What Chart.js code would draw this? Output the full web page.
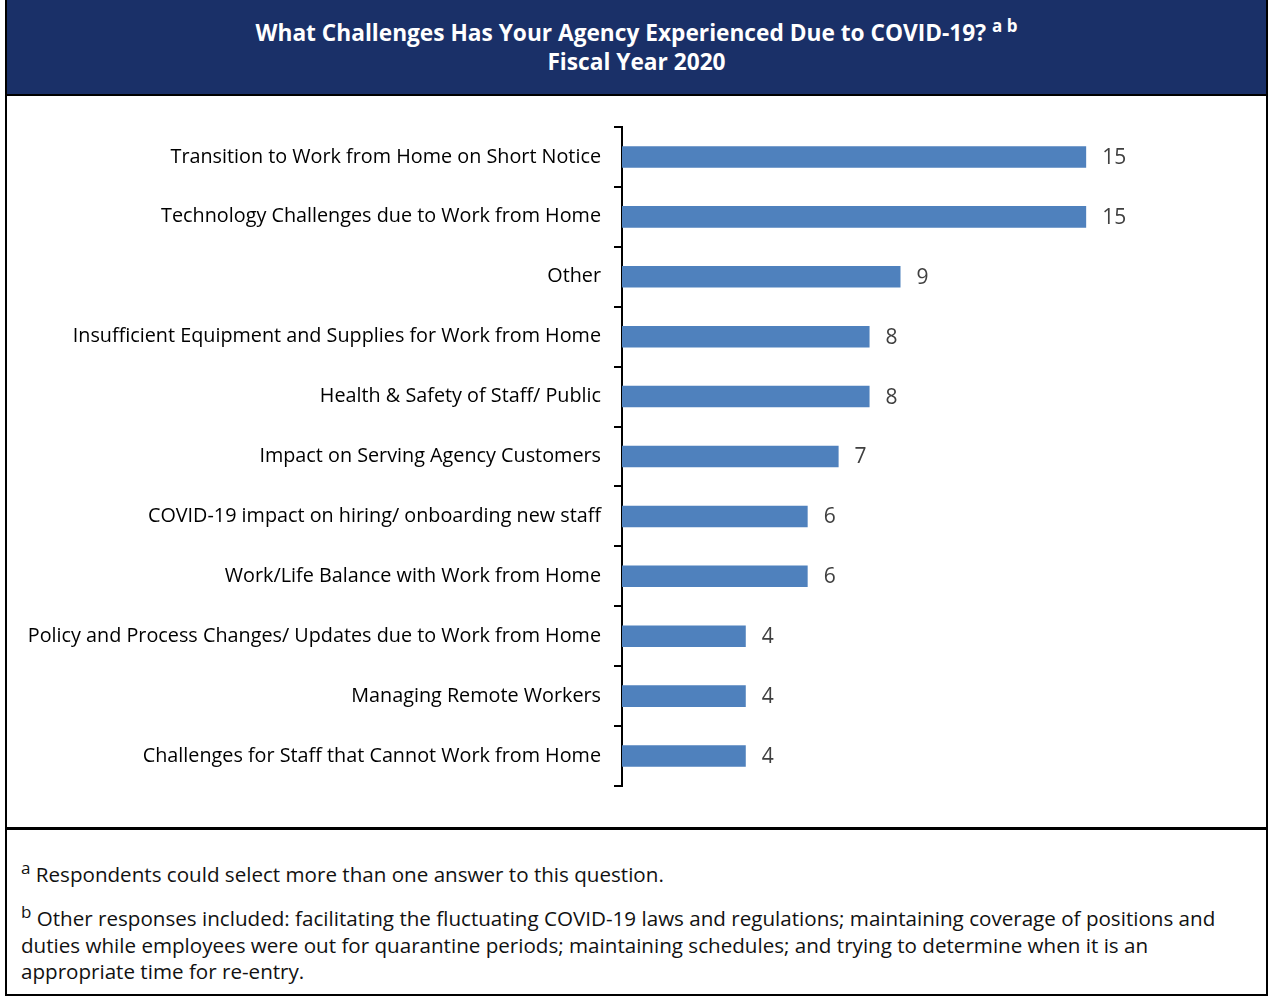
<!DOCTYPE html>
<html>
<head>
<meta charset="utf-8">
<script src="https://cdn.jsdelivr.net/npm/chart.js@4/dist/chart.umd.min.js"></script>
<style>
  html, body { margin: 0; padding: 0; background: #fff; }
  #frame {
    position: absolute; left: 5px; top: 0; width: 1259px; height: 994px;
    border: 2px solid #000; border-top: none; box-sizing: content-box;
  }
  #header {
    position: absolute; left: 0; top: 0; width: 1259px; height: 96px;
    background: #1a3068; border-bottom: 2px solid #000;
    color: #fff; text-align: center;
    font-family: "Open Sans", sans-serif; font-weight: bold;
    font-size: 22.7px; line-height: 29px; padding-top: 18px; box-sizing: border-box;
  }
  #header sup { font-size: 17px; vertical-align: 9px; line-height: 0; }
  #plot { position: absolute; left: 0; top: 97px; width: 1259px; height: 730px; }
  #notes {
    position: absolute; left: 0; top: 827px; width: 1259px; height: 167px;
    border-top: 3px solid #000; box-sizing: border-box;
    font-family: "Open Sans", sans-serif; font-size: 20.6px; color: #111;
    white-space: nowrap;
  }
  #notes p { margin: 0; }
  #notes sup { font-size: 17px; line-height: 0; vertical-align: 8px; }
  #n1 { position: absolute; top: 30px; left: 14px; }
  #n2 { position: absolute; top: 75px; left: 14px; line-height: 26.5px; }
</style>
</head>
<body>
<div id="frame">
  <div id="header">What Challenges Has Your Agency Experienced Due to COVID-19? <sup>a b</sup><br>Fiscal Year 2020</div>
  <div id="plot"><canvas id="c"></canvas></div>
  <div id="notes">
    <p id="n1"><sup>a</sup> Respondents could select more than one answer to this question.</p>
    <p id="n2"><sup>b</sup> Other responses included: facilitating the fluctuating COVID-19 laws and regulations; maintaining coverage of positions and<br>duties while employees were out for quarantine periods; maintaining schedules; and trying to determine when it is an<br>appropriate time for re-entry.</p>
  </div>
</div>
<script>
// Challenges reported by agencies and the number of agencies selecting each
const challenges = [
  "Transition to Work from Home on Short Notice",
  "Technology Challenges due to Work from Home",
  "Other",
  "Insufficient Equipment and Supplies for Work from Home",
  "Health & Safety of Staff/ Public",
  "Impact on Serving Agency Customers",
  "COVID-19 impact on hiring/ onboarding new staff",
  "Work/Life Balance with Work from Home",
  "Policy and Process Changes/ Updates due to Work from Home",
  "Managing Remote Workers",
  "Challenges for Staff that Cannot Work from Home"
];
const responses = [15, 15, 9, 8, 8, 7, 6, 6, 4, 4, 4];

// Writes each bar's count just past its end
const valueLabels = {
  id: 'valueLabels',
  afterDatasetsDraw(chart) {
    const { ctx } = chart;
    const meta = chart.getDatasetMeta(0);
    ctx.save();
    ctx.fillStyle = '#404040';
    ctx.font = '21px "Open Sans", sans-serif';
    ctx.textAlign = 'left';
    ctx.textBaseline = 'middle';
    meta.data.forEach((bar, i) => {
      ctx.fillText(String(chart.data.datasets[0].data[i]), bar.x + 16, bar.y + 1);
    });
    ctx.restore();
  }
};

new Chart(document.getElementById('c'), {
  type: 'bar',
  data: {
    labels: challenges,
    datasets: [{
      data: responses,
      backgroundColor: '#4f81bd',
      borderWidth: 0,
      categoryPercentage: 1,
      barPercentage: 0.36
    }]
  },
  options: {
    indexAxis: 'y',
    responsive: true,
    maintainAspectRatio: false,
    animation: false,
    layout: { padding: { top: 30, bottom: 41, left: 0, right: 87 } },
    plugins: { legend: { display: false }, tooltip: { enabled: false }, title: { display: false } },
    scales: {
      x: { display: false, min: 0, max: 18 },
      y: {
        afterFit(scale) { scale.width = 615; },
        border: { display: true, color: '#000', width: 2 },
        grid: { drawOnChartArea: false, drawTicks: true, tickLength: 8, color: '#000', lineWidth: 2, offset: true },
        ticks: { color: '#000', padding: 13, font: { family: '"Open Sans", sans-serif', size: 19.8 } }
      }
    }
  },
  plugins: [valueLabels]
});
</script>
</body>
</html>
